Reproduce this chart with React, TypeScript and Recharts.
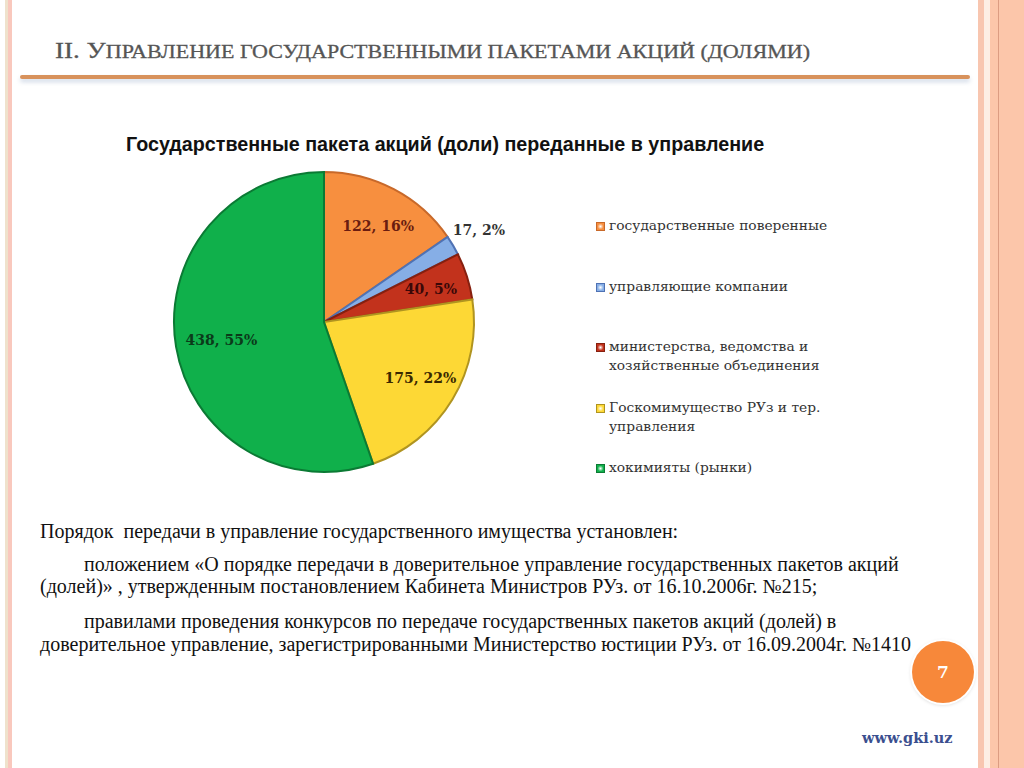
import React from "react";
import { Cell, Legend, Pie, PieChart } from "recharts";

const groups = [
  "государственные поверенные",
  "управляющие компании",
  "министерства, ведомства и хозяйственные объединения",
  "Госкомимущество РУз и тер. управления",
  "хокимияты (рынки)",
];
const counts = [122, 17, 40, 175, 438];
const shares = [16, 2, 5, 22, 55];

const fills = ["#f78f3f", "#86aee6", "#c2321c", "#fdd835", "#10b04b"];
const edges = ["#c8692a", "#4f72b4", "#86200f", "#b09420", "#0b7a34"];
const labelColors = ["#6a1c10", "#333333", "#3a0808", "#3a2800", "#0b3a1a"];

const pieData = groups.map((name, i) => ({ name, value: counts[i], share: shares[i] }));

const RAD = Math.PI / 180;

function renderLabel(props: any) {
  const { cx, cy, midAngle, outerRadius, index } = props;
  const d = pieData[index];
  const r = d.share < 3 ? outerRadius * 1.2 : outerRadius * 0.72;
  const x = cx + r * Math.cos(-midAngle * RAD) + (d.share < 3 ? 0 : 4);
  const y = cy + r * Math.sin(-midAngle * RAD);
  return (
    <text
      x={x}
      y={y}
      textAnchor="middle"
      dominantBaseline="central"
      fill={labelColors[index]}
      style={{ fontFamily: "DejaVu Serif", fontWeight: 700, fontSize: 14 }}
    >
      {`${d.value}, ${d.share}%`}
    </text>
  );
}

function LegendBox() {
  return (
    <div style={{ fontFamily: "DejaVu Serif", fontSize: 13.8, color: "#333", width: 270 }}>
      {pieData.map((d, i) => (
        <div key={d.name} style={{ height: 60.5, display: "flex", alignItems: "flex-start" }}>
          <span
            style={{
              display: "inline-block",
              width: 7,
              height: 7,
              marginTop: 6,
              marginRight: 4,
              flex: "none",
              background: `radial-gradient(circle, #fff6 0%, ${fills[i]} 60%)`,
              border: `1px solid ${edges[i]}`,
            }}
          />
          <span style={{ lineHeight: "19px" }}>{d.name}</span>
        </div>
      ))}
    </div>
  );
}

const bodyLines = [
  { x: 40, y: 520, t: "Порядок  передачи в управление государственного имущества установлен:" },
  { x: 84, y: 553, t: "положением «О порядке передачи в доверительное управление государственных пакетов акций" },
  { x: 40, y: 575, t: "(долей)» , утвержденным постановлением Кабинета Министров РУз. от 16.10.2006г. №215;" },
  { x: 84, y: 610, t: "правилами проведения конкурсов по передаче государственных пакетов акций (долей) в" },
  { x: 40, y: 633, t: "доверительное управление, зарегистрированными Министерство юстиции РУз. от 16.09.2004г. №1410" },
];

export default function App() {
  return (
    <div
      style={{
        position: "absolute",
        left: 0,
        top: 0,
        width: 1024,
        height: 768,
        overflow: "hidden",
        background: "#fff",
      }}
    >
      {/* frame stripes */}
      <div style={{ position: "absolute", left: 5, top: 0, width: 3, height: 768, background: "#efe2cc" }} />
      <div style={{ position: "absolute", left: 8, top: 0, width: 4, height: 768, background: "#f9c8bd" }} />
      <div style={{ position: "absolute", left: 978, top: 0, width: 6, height: 768, background: "#f8c6b0" }} />
      <div style={{ position: "absolute", left: 984, top: 0, width: 6, height: 768, background: "#fdeee4" }} />
      <div style={{ position: "absolute", left: 990, top: 0, width: 34, height: 768, background: "#fcc6aa" }} />
      <div style={{ position: "absolute", left: 998, top: 0, width: 1, height: 768, background: "#dc9c82" }} />

      <svg width={1024} height={100} style={{ position: "absolute", left: 0, top: 0 }}>
        <text
          x={55}
          y={58}
          textLength={755}
          lengthAdjust="spacingAndGlyphs"
          fill="#555"
          stroke="#555"
          strokeWidth={0.3}
          style={{ fontFamily: "Liberation Serif" }}
        >
          <tspan fontSize={24}>II. У</tspan>
          <tspan fontSize={19.5}>ПРАВЛЕНИЕ ГОСУДАРСТВЕННЫМИ ПАКЕТАМИ АКЦИЙ (ДОЛЯМИ)</tspan>
        </text>
      </svg>
      <div
        style={{
          position: "absolute",
          left: 20,
          top: 75,
          width: 950,
          height: 4,
          background: "#d8925c",
          borderRadius: 2,
          boxShadow: "0 3px 4px rgba(150,170,200,0.45)",
        }}
      />

      <div
        style={{
          position: "absolute",
          left: 126,
          top: 133,
          fontFamily: "Liberation Sans",
          fontWeight: 700,
          fontSize: 19.7,
          color: "#111",
          whiteSpace: "nowrap",
        }}
      >
        Государственные пакета акций (доли) переданные в управление
      </div>

      <div style={{ position: "absolute", left: 0, top: 0 }}>
        <PieChart width={1024} height={500} margin={{ top: 0, right: 0, bottom: 0, left: 0 }}>
          <Pie
            data={pieData}
            dataKey="value"
            nameKey="name"
            cx={324}
            cy={322}
            outerRadius={150}
            startAngle={90}
            endAngle={-270}
            label={renderLabel}
            labelLine={false}
            isAnimationActive={false}
          >
            {pieData.map((d, i) => (
              <Cell key={d.name} fill={fills[i]} stroke={edges[i]} strokeWidth={2} />
            ))}
          </Pie>
          <Legend
            layout="vertical"
            content={() => <LegendBox />}
            wrapperStyle={{ position: "absolute", left: 596, top: 216, width: 280 }}
          />
        </PieChart>
      </div>

      {bodyLines.map((l) => (
        <div
          key={l.t}
          style={{
            position: "absolute",
            left: l.x,
            top: l.y,
            fontFamily: "Liberation Serif",
            fontSize: 20,
            color: "#111",
            whiteSpace: "pre",
          }}
        >
          {l.t}
        </div>
      ))}

      <div
        style={{
          position: "absolute",
          left: 912,
          top: 641,
          width: 62,
          height: 62,
          borderRadius: "50%",
          background: "#f7883a",
          boxShadow: "0 0 0 2px #fff, 0 1px 4px rgba(0,0,0,0.25)",
          display: "flex",
          alignItems: "center",
          justifyContent: "center",
          color: "#fff",
          fontFamily: "DejaVu Serif",
          fontWeight: 700,
          fontSize: 17,
        }}
      >
        7
      </div>
      <div
        style={{
          position: "absolute",
          left: 862,
          top: 729,
          fontFamily: "DejaVu Serif",
          fontWeight: 700,
          fontSize: 14.5,
          color: "#3b4f8f",
        }}
      >
        www.gki.uz
      </div>
    </div>
  );
}
